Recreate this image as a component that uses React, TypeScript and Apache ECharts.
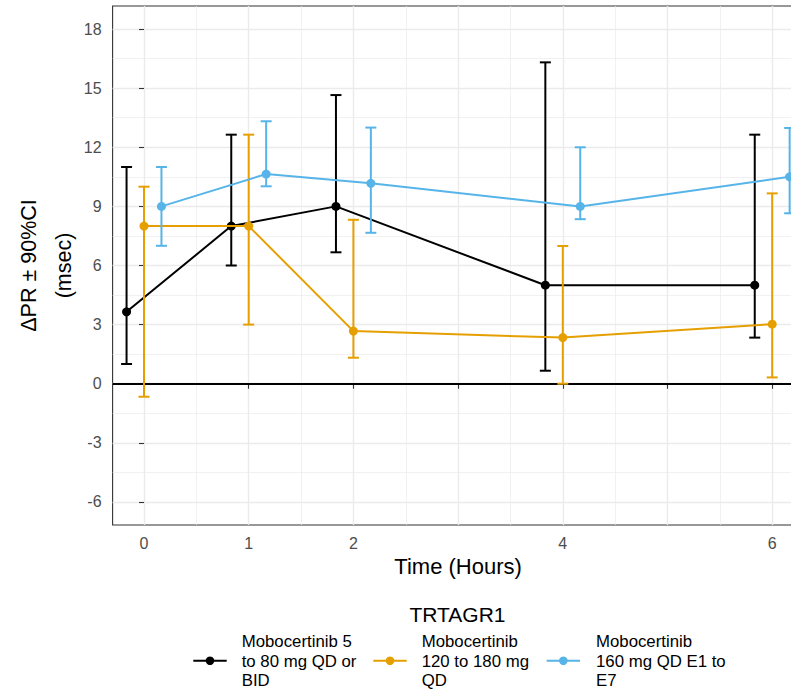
import React, { useEffect, useRef } from "react";
import * as echarts from "echarts";

// ---- data ----
const times = [0, 1, 2, 4, 6];
const groupNames = [
  "Mobocertinib 5 to 80 mg QD or BID",
  "Mobocertinib 120 to 180 mg QD",
  "Mobocertinib 160 mg QD E1 to E7",
];
const legendLabels = [
  "Mobocertinib 5\nto 80 mg QD or\nBID",
  "Mobocertinib\n120 to 180 mg\nQD",
  "Mobocertinib\n160 mg QD E1 to\nE7",
];
const lowMean = [3.65, 8.0, 9.0, 5.0, 5.0];
const lowLower = [1.0, 6.0, 6.67, 0.66, 2.34];
const lowUpper = [11.0, 12.64, 14.65, 16.31, 12.64];
const midMean = [8.0, 8.0, 2.67, 2.34, 3.02];
const midLower = [-0.66, 3.0, 1.32, 0.0, 0.32];
const midUpper = [10.0, 12.64, 8.32, 6.99, 9.66];
const highMean = [9.0, 10.64, 10.17, 9.0, 10.5];
const highLower = [7.0, 10.02, 7.66, 8.35, 8.65];
const highUpper = [11.0, 13.32, 13.0, 12.0, 12.98];

const xTickValues = [0, 1, 2, 3, 4, 5, 6];
const xTickLabels = [0, 1, 2, 4, 6];
const xMinorGrid = [0.5, 1.5, 2.5, 3.5, 4.5, 5.5];
const yTickValues = [-6, -3, 0, 3, 6, 9, 12, 15, 18];
const yMinorGrid = [-4.5, -1.5, 1.5, 4.5, 7.5, 10.5, 13.5, 16.5];

const colors = ["#000000", "#E69F00", "#56B4E9"];
const dodge = [-1 / 6, 0, 1 / 6];
const FONT = "'Liberation Sans', Arial, Helvetica, sans-serif";

export default function App() {
  const ref = useRef<HTMLDivElement>(null);
  useEffect(() => {
    if (!ref.current) return;
    const chart = echarts.init(ref.current, undefined, { renderer: "svg" });
    const means = [lowMean, midMean, highMean];
    const lowers = [lowLower, midLower, highLower];
    const uppers = [lowUpper, midUpper, highUpper];

    const gridLineData: any[] = [];
    yTickValues.forEach((v) => gridLineData.push({ yAxis: v, lineStyle: { color: "#ebebeb", width: 1.4, type: "solid" } }));
    yMinorGrid.forEach((v) => gridLineData.push({ yAxis: v, lineStyle: { color: "#ebebeb", width: 0.7, type: "solid" } }));
    xTickValues.forEach((v) => gridLineData.push({ xAxis: v, lineStyle: { color: "#ebebeb", width: 1.4, type: "solid" } }));
    xMinorGrid.forEach((v) => gridLineData.push({ xAxis: v, lineStyle: { color: "#ebebeb", width: 0.7, type: "solid" } }));

    const series: any[] = [
      {
        type: "line",
        name: "grid",
        data: [],
        silent: true,
        z: 0,
        markLine: {
          z: 0,
          silent: true,
          symbol: ["none", "none"],
          label: { show: false },
          animation: false,
          emphasis: { disabled: true },
          data: gridLineData,
        },
      },
      {
        type: "line",
        name: "zero",
        data: [],
        silent: true,
        z: 1,
        markLine: {
          z: 1,
          silent: true,
          symbol: ["none", "none"],
          label: { show: false },
          animation: false,
          emphasis: { disabled: true },
          data: [{ yAxis: 0, lineStyle: { color: "#000000", width: 1.8, type: "solid" } }],
        },
      },
    ];

    groupNames.forEach((name, g) => {
      series.push({
        type: "custom",
        name: name + " CI",
        data: times.map((t, i) => [t + dodge[g], lowers[g][i], uppers[g][i]]),
        encode: { x: 0, y: [1, 2] },
        z: 10 + g * 2,
        clip: false,
        renderItem: (params: any, api: any) => {
          const x = api.value(0);
          const pLo = api.coord([x, api.value(1)]);
          const pHi = api.coord([x, api.value(2)]);
          const hw = 5.5;
          const style = { stroke: colors[g], lineWidth: 2 };
          return {
            type: "group",
            children: [
              { type: "line", shape: { x1: pHi[0], y1: pHi[1], x2: pLo[0], y2: pLo[1] }, style },
              { type: "line", shape: { x1: pHi[0] - hw, y1: pHi[1], x2: pHi[0] + hw, y2: pHi[1] }, style },
              { type: "line", shape: { x1: pLo[0] - hw, y1: pLo[1], x2: pLo[0] + hw, y2: pLo[1] }, style },
            ],
          };
        },
      });
      series.push({
        type: "line",
        name,
        data: times.map((t, i) => [t + dodge[g], means[g][i]]),
        symbol: "circle",
        symbolSize: 9,
        lineStyle: { color: colors[g], width: 2 },
        itemStyle: { color: colors[g] },
        z: 11 + g * 2,
        clip: false,
      });
    });

    const keyX = [[193.3, 226.7], [373.3, 406.7], [546.7, 580]];
    const textX = [241.7, 421.7, 596];
    const legendGraphics: any[] = [
      {
        type: "text",
        x: 457.5,
        y: 614,
        style: { text: "TRTAGR1", font: `21px ${FONT}`, fill: "#000", align: "center", verticalAlign: "middle" },
      },
    ];
    legendLabels.forEach((lab, g) => {
      legendGraphics.push({
        type: "line",
        shape: { x1: keyX[g][0], y1: 660.7, x2: keyX[g][1], y2: 660.7 },
        style: { stroke: colors[g], lineWidth: 2 },
      });
      legendGraphics.push({
        type: "circle",
        shape: { cx: (keyX[g][0] + keyX[g][1]) / 2, cy: 660.7, r: 4.3 },
        style: { fill: colors[g] },
      });
      legendGraphics.push({
        type: "text",
        x: textX[g],
        y: 661,
        style: {
          text: lab,
          font: `16.8px ${FONT}`,
          fill: "#000",
          align: "left",
          verticalAlign: "middle",
          lineHeight: 19.3,
        },
      });
    });

    chart.setOption({
      animation: false,
      backgroundColor: "#ffffff",
      textStyle: { fontFamily: FONT },
      grid: {
        left: 112.6,
        top: 6,
        width: 691,
        height: 519,
        show: true,
        borderColor: "#333333",
        borderWidth: 1.1,
        backgroundColor: "#ffffff",
        containLabel: false,
        outerBoundsMode: "none",
      },
      xAxis: {
        type: "value",
        min: -0.3,
        max: 6.3,
        axisLine: { show: false },
        splitLine: { show: false },
        axisTick: { show: true, length: 5, lineStyle: { color: "#333333", width: 1.1 }, customValues: xTickValues },
        axisLabel: {
          customValues: xTickLabels,
          color: "#4d4d4d",
          fontSize: 16,
          fontFamily: FONT,
          margin: 10,
        },
        name: "Time (Hours)",
        nameLocation: "middle",
        nameGap: 29,
        nameTextStyle: { color: "#000", fontSize: 22, fontFamily: FONT },
      },
      yAxis: {
        type: "value",
        min: -7.17,
        max: 19.17,
        axisLine: { show: false },
        splitLine: { show: false },
        axisTick: { show: true, length: 5, lineStyle: { color: "#333333", width: 1.1 }, customValues: yTickValues },
        axisLabel: {
          customValues: yTickValues,
          color: "#4d4d4d",
          fontSize: 16,
          fontFamily: FONT,
          margin: 11,
        },
      },
      graphic: [
        {
          type: "text",
          x: 29,
          y: 265.5,
          rotation: Math.PI / 2,
          style: { text: "ΔPR ± 90%CI", font: `21.5px ${FONT}`, fill: "#000", align: "center", verticalAlign: "middle" },
        },
        {
          type: "text",
          x: 64,
          y: 265.5,
          rotation: Math.PI / 2,
          style: { text: "(msec)", font: `21.5px ${FONT}`, fill: "#000", align: "center", verticalAlign: "middle" },
        },
        ...legendGraphics,
      ],
      series,
    });
    return () => chart.dispose();
  }, []);
  return (
    <div
      ref={ref}
      style={{ position: "fixed", left: 0, top: 0, width: 791, height: 692, background: "#fff" }}
    />
  );
}
